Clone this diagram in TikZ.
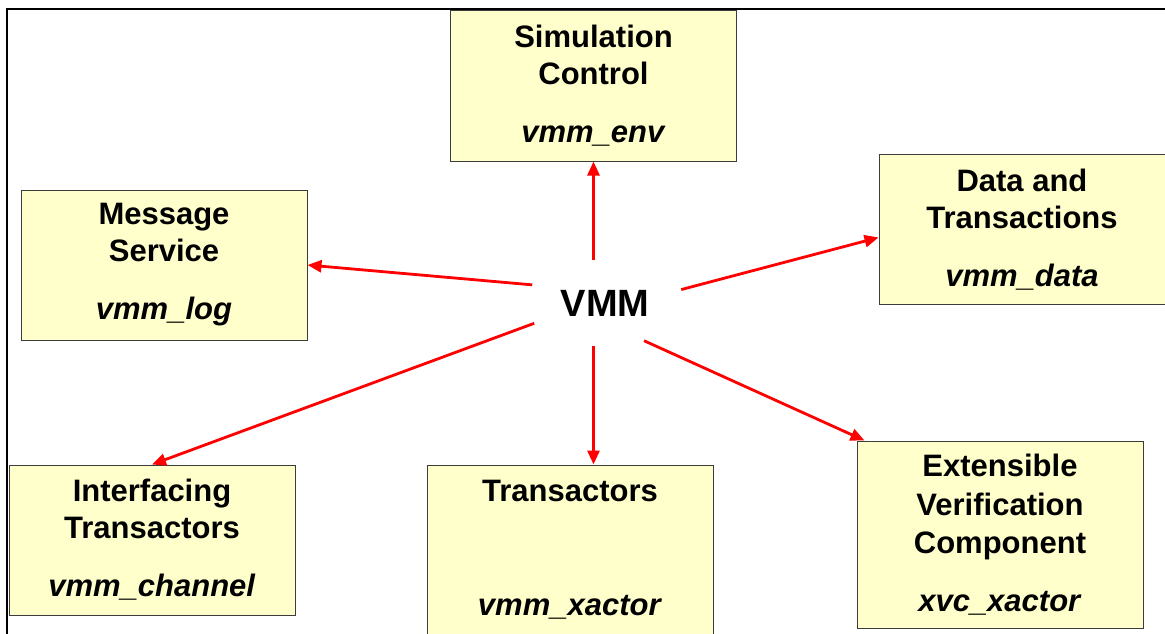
\documentclass[tikz,border=0pt]{standalone}
\usepackage{fontspec}
\setmainfont{Liberation Sans}
\usetikzlibrary{arrows.meta,shapes.geometric,calc}
\definecolor{boxfill}{RGB}{255,255,204}
\definecolor{boxline}{RGB}{60,60,60}
\tikzset{
	box/.style={draw=boxline, line width=1pt, fill=boxfill, minimum width=286pt, minimum height=150pt, inner sep=0pt, align=center, font=\fontsize{31}{37}\selectfont\bfseries},
	link/.style={red, line width=2.8pt, ->, >={Triangle[length=14pt,width=12pt]}},
}
\begin{document}
\begin{tikzpicture}[x=1pt, y=-1pt]
	\useasboundingbox (0,0) rectangle (1165,634);
	% frame
	\draw [line width=2pt] (7,634) -- (7,9) -- (1165,9);
	% the six parts
	\node [box] (sim) at (593.5,86) {Simulation\\Control\\[21pt]\textit{vmm\_env}};
	\node [box] (data) at (1022,229.5) {Data and\\Transactions\\[21pt]\textit{vmm\_data}};
	\node [box] (msg) at (164,265) {Message\\Service\\[21pt]\textit{vmm\_log}};
	\node [box] (inter) at (152,540) {Interfacing\\Transactors\\[21pt]\textit{vmm\_channel}};
	\node [box, minimum height=170pt] (trans) at (570,550) {Transactors\\[77pt]\textit{vmm\_xactor}};
	\node [box, minimum height=187pt, font=\fontsize{31}{38.5}\selectfont\bfseries] (xvc) at (1000,534.5) {Extensible\\Verification\\Component\\[19pt]\textit{xvc\_xactor}};
	% centre
	\node [ellipse, minimum width=160pt, minimum height=86pt, inner sep=0pt, font=\fontsize{38}{44}\selectfont\bfseries] (vmm) at (605,303) {VMM};
	\draw [link] (sim.south |- vmm.north) -- (sim.south);
	\draw [link] (vmm.166) -- (msg.east);
	\draw [link] (vmm.10) -- ($(data.west)+(0,8)$);
	\draw [link] (vmm.196) -- (inter.north);
	\draw [link] (sim.south |- vmm.south) -- (sim.south |- trans.north);
	\draw [link] (vmm.-44) -- ($(xvc.north west)+(8,0)$);
\end{tikzpicture}
\end{document}
